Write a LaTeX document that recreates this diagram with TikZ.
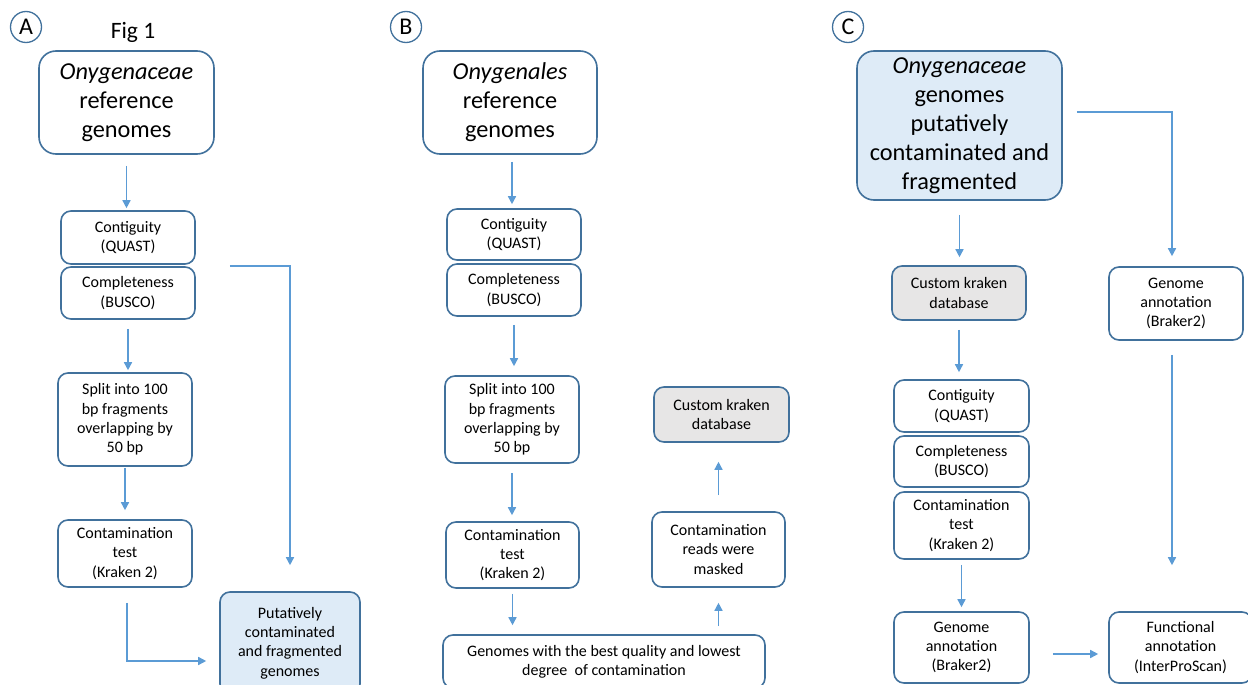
\documentclass[tikz,border=0pt]{standalone}
\usepackage{fontspec}
\setmainfont{Carlito}
\usetikzlibrary{arrows.meta}
\definecolor{bord}{HTML}{41719C}
\definecolor{arrc}{HTML}{5B9BD5}
\definecolor{lblue}{HTML}{DEEBF7}
\definecolor{lgray}{HTML}{E7E6E6}
\begin{document}
\begin{tikzpicture}[x=1pt,y=-1pt,
  box/.style={draw=bord, line width=1.6pt, rounded corners=10pt, align=center, inner sep=2pt, font=\fontsize{16}{19.3}\selectfont},
  bigbox/.style={box, rounded corners=17pt, font=\fontsize{24.3}{29}\selectfont},
  conn/.style={draw=arrc, line width=1.5pt, -{Triangle[length=8pt,width=8pt]}},
  tag/.style={circle, draw=bord, line width=1.3pt, minimum size=31pt, inner sep=0pt, font=\fontsize{24}{26}\selectfont}]
\useasboundingbox (0,0) rectangle (1248,685);
\clip (0,0) rectangle (1248,685);

% tags
\node[tag] (tA) at (26,27) {A};
\node[tag] (tB) at (406,27) {B};
\node[tag] (tC) at (848,27) {C};
\node[font=\fontsize{23.5}{26}\selectfont] (fig) at (133,32) {Fig 1};

% Panel A
\node[bigbox, minimum width=175pt, minimum height=103pt] (A1) at (126.5,102.5) {\textit{Onygenaceae}\\reference\\genomes};
\node[box, minimum width=134pt, minimum height=53pt] (A2) at (128,237.5) {Contiguity\\(QUAST)};
\node[box, minimum width=134pt, minimum height=52pt] (A3) at (128,293) {Completeness\\(BUSCO)};
\node[box, minimum width=134pt, minimum height=93pt] (A4) at (125,419.5) {Split into 100\\bp fragments\\overlapping by\\50 bp};
\node[box, minimum width=134pt, minimum height=67pt] (A5) at (125,553.5) {Contamination\\test\\(Kraken 2)};
\node[box, fill=lblue, minimum width=140pt, minimum height=102pt] (A6) at (290,643) {Putatively\\contaminated\\and fragmented\\genomes};

\draw[conn, shorten <=11pt, shorten >=2pt] (A1.south) -- (A1.south |- A2.north);
\draw[conn, shorten <=9pt, shorten >=2pt] (A3.south) -- (A3.south |- A4.north);
\draw[conn, shorten <=1pt, shorten >=9pt] (A4.south) -- (A4.south |- A5.north);
\draw[conn, shorten <=15pt, shorten >=13pt] ([xshift=2pt]A5.south) |- ([yshift=-18pt]A6.west);
\draw[conn, shorten <=34pt, shorten >=26pt] (A3.north east) -| (A6.north);

% Panel B
\node[bigbox, minimum width=174pt, minimum height=103pt] (B1) at (510,102.5) {\textit{Onygenales}\\reference\\genomes};
\node[box, minimum width=134pt, minimum height=51pt] (B2) at (514,234.5) {Contiguity\\(QUAST)};
\node[box, minimum width=134pt, minimum height=52pt] (B3) at (514,290) {Completeness\\(BUSCO)};
\node[box, minimum width=134pt, minimum height=87pt] (B4) at (512,419.5) {Split into 100\\bp fragments\\overlapping by\\50 bp};
\node[box, minimum width=133pt, minimum height=66pt] (B5) at (512.5,555) {Contamination\\test\\(Kraken 2)};
\node[box, minimum width=322pt, minimum height=53pt] (B6) at (604,661.5) {Genomes with the best quality and lowest\\degree\ \ of contamination};
\node[box, minimum width=133pt, minimum height=75pt] (B7) at (718.5,549.5) {Contamination\\reads were\\masked};
\node[box, fill=lgray, minimum width=135pt, minimum height=55pt] (B8) at (721.5,414.5) {Custom kraken\\database};

\draw[conn, shorten <=7pt, shorten >=4pt] ([xshift=2pt]B1.south) -- ([xshift=2pt]B1.south |- B2.north);
\draw[conn, shorten <=8pt, shorten >=9pt] (B3.south) -- (B3.south |- B4.north);
\draw[conn, shorten <=9pt, shorten >=6pt] (B4.south) -- (B4.south |- B5.north);
\draw[conn, shorten <=5pt, shorten >=9pt] (B5.south) -- (B5.south |- B6.north);
\draw[conn, shorten <=8pt, shorten >=15pt] (B6.north -| B7.south) -- (B7.south);
\draw[conn, shorten <=16pt, shorten >=19pt] (B7.north) -- (B7.north |- B8.south);

% Panel C
\node[bigbox, fill=lblue, minimum width=205pt, minimum height=149pt] (C1) at (959.5,125.5) {\textit{Onygenaceae}\\genomes\\putatively\\contaminated and\\fragmented};
\node[box, fill=lgray, minimum width=134pt, minimum height=54pt] (C2) at (959,293) {Custom kraken\\database};
\node[box, minimum width=134pt, minimum height=73pt] (C3) at (1176,303.5) {Genome\\annotation\\(Braker2)};
\node[box, minimum width=135pt, minimum height=52pt] (C4) at (961.5,406) {Contiguity\\(QUAST)};
\node[box, minimum width=135pt, minimum height=51pt] (C5) at (961.5,461.5) {Completeness\\(BUSCO)};
\node[box, minimum width=135pt, minimum height=67pt] (C6) at (961.5,525.5) {Contamination\\test\\(Kraken 2)};
\node[box, minimum width=135pt, minimum height=71pt] (C7) at (961.5,647.5) {Genome\\annotation\\(Braker2)};
\node[box, minimum width=143pt, minimum height=71pt] (C8) at (1180.5,647.5) {Functional\\annotation\\(InterProScan)};

\draw[conn, shorten <=14pt, shorten >=8pt] (C1.south) -- (C1.south |- C2.north);
\draw[conn, shorten <=14pt, shorten >=10pt] ([yshift=13.5pt]C1.east) -| ([xshift=-4pt]C3.north);
\draw[conn, shorten <=9pt, shorten >=7pt] (C2.south) -- (C2.south |- C4.north);
\draw[conn, shorten <=5pt, shorten >=4pt] (C6.south) -- (C6.south |- C7.north);
\draw[conn, shorten <=23pt, shorten >=10pt] ([yshift=-6.5pt]C7.east) -- ([yshift=-6.5pt]C8.west);
\draw[conn, shorten <=14pt, shorten >=46pt] ([xshift=-4pt]C3.south) -- ([xshift=-4pt]C3.south |- C8.north);
\end{tikzpicture}
\end{document}
